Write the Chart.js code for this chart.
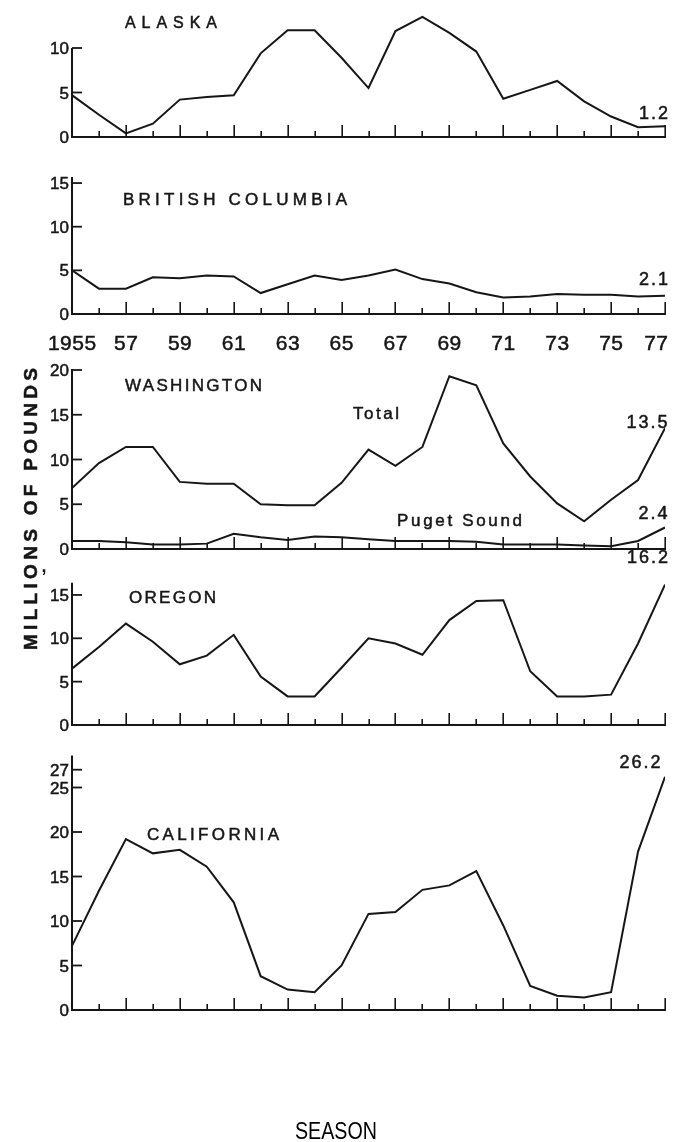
<!DOCTYPE html>
<html lang="en">
<head>
<meta charset="utf-8">
<title>Landings by season, 1955–1977</title>
<script src="https://cdn.jsdelivr.net/npm/chart.js@4.4.1/dist/chart.umd.min.js"></script>
<style>
  html, body { margin: 0; padding: 0; background: #fff; }
  #page { position: relative; width: 676px; height: 1142px; overflow: hidden; background: #fff; }
  #page canvas { position: absolute; left: 0; top: 0; }
</style>
</head>
<body>
<div id="page">
  <canvas id="alaska" width="676" height="1142"></canvas>
  <canvas id="bc" width="676" height="1142"></canvas>
  <canvas id="washington" width="676" height="1142"></canvas>
  <canvas id="oregon" width="676" height="1142"></canvas>
  <canvas id="california" width="676" height="1142"></canvas>
</div>
<script>
// Seasons on the horizontal axis
const seasons = [1955, 1956, 1957, 1958, 1959, 1960, 1961, 1962, 1963, 1964, 1965, 1966,
                 1967, 1968, 1969, 1970, 1971, 1972, 1973, 1974, 1975, 1976, 1977];
const seasonLabels = ['1955', '57', '59', '61', '63', '65', '67', '69', '71', '73', '75', '77'];

// Landings, millions of pounds
const alaska = [4.7, 2.5, 0.4, 1.5, 4.2, 4.5, 4.7, 9.4, 12.0, 12.0, 8.9, 5.5,
                11.9, 13.5, 11.7, 9.6, 4.3, 5.3, 6.3, 4.0, 2.3, 1.1, 1.2];
const britishColumbia = [5.0, 2.9, 2.9, 4.2, 4.1, 4.4, 4.3, 2.4, 3.4, 4.4, 3.9, 4.4,
                         5.1, 4.0, 3.5, 2.5, 1.9, 2.0, 2.3, 2.2, 2.2, 2.0, 2.1];
const washingtonTotal = [6.8, 9.6, 11.4, 11.4, 7.5, 7.3, 7.3, 5.0, 4.9, 4.9, 7.4, 11.1,
                         9.3, 11.4, 19.3, 18.3, 11.8, 8.1, 5.1, 3.1, 5.5, 7.7, 13.5];
const pugetSound = [0.9, 0.9, 0.75, 0.5, 0.5, 0.6, 1.7, 1.3, 1.0, 1.4, 1.3, 1.1,
                    0.9, 0.9, 0.9, 0.8, 0.5, 0.5, 0.5, 0.4, 0.3, 0.9, 2.4];
const oregon = [6.5, 9.0, 11.7, 9.6, 7.0, 8.0, 10.4, 5.6, 3.3, 3.3, 6.6, 10.0,
                9.4, 8.1, 12.1, 14.3, 14.4, 6.2, 3.3, 3.3, 3.5, 9.4, 16.2];
const california = [7.2, 13.4, 19.2, 17.6, 18.0, 16.1, 12.1, 3.8, 2.3, 2.0, 5.0, 10.8,
                    11.0, 13.5, 14.0, 15.6, 9.5, 2.7, 1.6, 1.4, 2.0, 17.8, 26.2];

// Value-axis ticks per panel
const alaskaTicks = [0, 5, 10];
const bcTicks = [0, 5, 10, 15];
const washingtonTicks = [0, 5, 10, 15, 20];
const oregonTicks = [0, 5, 10, 15];
const californiaTicks = [0, 5, 10, 15, 20, 25, 27];

// ---------------------------------------------------------------- styling
const INK = '#161616';
const FONT = '"Liberation Sans", Arial, Helvetica, sans-serif';
const CAP = 0.716;                 // cap height / font size
const PAGE_W = 676, PAGE_H = 1142;
const PLOT_LEFT = 72, PLOT_RIGHT = 665;
const PEN = 0.5;                   // extra stroke so the lettering reads like pen work

function inkText(ctx, text, x, y) {
  ctx.fillText(text, x, y);
  ctx.lineWidth = PEN;
  ctx.strokeText(text, x, y);
}

// draw text whose cap centre sits on yMid, spread to fill x1..x2
function spacedText(ctx, text, x1, x2, yMid, size) {
  ctx.letterSpacing = '0px';
  const chars = Array.from(text);
  const widths = chars.map(c => ctx.measureText(c).width);
  const total = widths.reduce((a, b) => a + b, 0);
  const gap = chars.length > 1 ? (x2 - x1 - total) / (chars.length - 1) : 0;
  const base = yMid + size * CAP / 2;
  ctx.textAlign = 'left';
  ctx.textBaseline = 'alphabetic';
  if ('letterSpacing' in ctx) {
    ctx.letterSpacing = gap + 'px';
    inkText(ctx, text, x1, base);
    ctx.letterSpacing = '0px';
  } else {
    let x = x1;
    chars.forEach((c, i) => { inkText(ctx, c, x, base); x += widths[i] + gap; });
  }
}

// centred on x (kept inside the page), cap centre on yMid
function centredText(ctx, text, x, yMid, size, spacing) {
  ctx.textBaseline = 'alphabetic';
  ctx.textAlign = 'left';
  if ('letterSpacing' in ctx) ctx.letterSpacing = (spacing || 0) + 'px';
  const w = ctx.measureText(text).width - (spacing || 0);
  const left = Math.min(x - w / 2, PAGE_W - 8 - w);
  inkText(ctx, text, left, yMid + size * CAP / 2);
  if ('letterSpacing' in ctx) ctx.letterSpacing = '0px';
}

// axes, tick marks, titles and end-value labels for one panel
const panelFrame = {
  id: 'panelFrame',
  afterDatasetsDraw(chart, args, opts) {
    const { ctx } = chart;
    const xs = chart.scales.x, ys = chart.scales.y;
    const x0 = xs.getPixelForValue(seasons[0]);
    const x1 = xs.getPixelForValue(seasons[seasons.length - 1]);
    const y0 = ys.getPixelForValue(0);
    ctx.save();
    ctx.strokeStyle = INK;
    ctx.fillStyle = INK;
    ctx.lineCap = 'butt';

    // base line and value axis
    ctx.lineWidth = 2;
    ctx.beginPath();
    ctx.moveTo(x0 - 1, y0);
    ctx.lineTo(x1 + 1, y0);
    ctx.moveTo(x0, y0 + 1);
    ctx.lineTo(x0, ys.getPixelForValue(opts.axisTop));
    ctx.stroke();

    // season tick marks, long on odd years
    ctx.lineWidth = 1.6;
    ctx.beginPath();
    seasons.forEach((s, i) => {
      if (i === 0) return;
      const px = Math.round(xs.getPixelForValue(s)) + 0.2;
      const len = s % 2 === 1 ? 12 : 6;
      ctx.moveTo(px, y0);
      ctx.lineTo(px, y0 - len);
    });
    ctx.stroke();

    // value ticks and their labels
    ctx.font = `17px ${FONT}`;
    opts.ticks.forEach(v => {
      const py = ys.getPixelForValue(v);
      if (v !== 0) {
        ctx.lineWidth = 1.8;
        ctx.beginPath();
        ctx.moveTo(x0, py);
        ctx.lineTo(x0 + 10, py);
        ctx.stroke();
      }
      ctx.textAlign = 'right';
      ctx.textBaseline = 'alphabetic';
      inkText(ctx, String(v), x0 - 3, py + 17 * CAP / 2);
    });

    // season labels under the panel
    if (opts.seasonLabels) {
      ctx.font = `21px ${FONT}`;
      seasonLabels.forEach((lab, i) => {
        const s = seasons[0] + i * 2;
        centredText(ctx, lab, xs.getPixelForValue(s), opts.seasonLabelY, 21, 0.5);
      });
    }

    // panel title
    const t = opts.title;
    ctx.font = `${t.size}px ${FONT}`;
    spacedText(ctx, t.text, t.x1, t.x2, t.y, t.size);

    // series names
    (opts.notes || []).forEach(n => {
      ctx.font = `${n.size}px ${FONT}`;
      spacedText(ctx, n.text, n.x1, n.x2, n.y, n.size);
    });

    // latest-season values
    ctx.font = `18px ${FONT}`;
    (opts.endLabels || []).forEach(e => {
      const data = chart.data.datasets[e.dataset].data;
      const last = data[data.length - 1];
      const px = xs.getPixelForValue(last.x);
      const py = ys.getPixelForValue(last.y);
      centredText(ctx, last.y.toFixed(1), px + e.dx, py + e.dy, 18, 2);
    });
    ctx.restore();
  }
};

// shared page lettering: value-axis title and season caption
const pageLettering = {
  id: 'pageLettering',
  afterDraw(chart) {
    const { ctx } = chart;
    ctx.save();
    ctx.fillStyle = INK;
    ctx.strokeStyle = INK;
    ctx.font = `bold 19px ${FONT}`;
    ctx.translate(30, 509);
    ctx.rotate(-Math.PI / 2);
    spacedText(ctx, 'MILLIONS OF POUNDS', -141, 141, 0, 19);
    ctx.restore();

    ctx.save();
    ctx.fillStyle = INK;
    ctx.font = `bold 18px ${FONT}`;
    ctx.textAlign = 'center';
    ctx.fillText(',', 44, 572);
    ctx.restore();

    ctx.save();
    ctx.fillStyle = '#000';
    ctx.font = `24px ${FONT}`;
    const w = ctx.measureText('SEASON').width;
    ctx.translate(336, 1139);
    ctx.scale(82 / w, 1);
    ctx.textAlign = 'center';
    ctx.textBaseline = 'alphabetic';
    ctx.fillText('SEASON', 0, 0);
    ctx.restore();
  }
};

function points(values) {
  return values.map((v, i) => ({ x: seasons[i], y: v }));
}

function lineSet(values) {
  return {
    data: points(values),
    borderColor: INK,
    borderWidth: 2,
    pointRadius: 0,
    pointHoverRadius: 0,
    tension: 0,
    fill: false
  };
}

// zero: pixel row of the base line; ppu: pixels per million pounds
function makePanel(canvasId, p) {
  const top = p.zero - p.yMax * p.ppu;
  return new Chart(document.getElementById(canvasId), {
    type: 'line',
    data: { datasets: p.series.map(lineSet) },
    options: {
      responsive: false,
      animation: false,
      events: [],
      layout: {
        padding: { left: PLOT_LEFT, right: PAGE_W - PLOT_RIGHT, top: top, bottom: PAGE_H - p.zero }
      },
      scales: {
        x: { type: 'linear', min: seasons[0], max: seasons[seasons.length - 1], display: false },
        y: { type: 'linear', min: 0, max: p.yMax, display: false }
      },
      plugins: {
        legend: { display: false },
        tooltip: { enabled: false },
        panelFrame: p.frame
      }
    },
    plugins: p.extra ? [panelFrame, p.extra] : [panelFrame]
  });
}

makePanel('alaska', {
  zero: 137, ppu: 8.9, yMax: 15,
  series: [alaska],
  frame: {
    axisTop: 10, ticks: alaskaTicks,
    title: { text: 'ALASKA', x1: 125, x2: 217, y: 22, size: 16 },
    endLabels: [{ dataset: 0, dx: -9, dy: -14 }]
  }
});

makePanel('bc', {
  zero: 314, ppu: 8.73, yMax: 16,
  series: [britishColumbia],
  frame: {
    axisTop: 15.7, ticks: bcTicks,
    seasonLabels: true, seasonLabelY: 342,
    title: { text: 'BRITISH COLUMBIA', x1: 123, x2: 347, y: 198.5, size: 17 },
    endLabels: [{ dataset: 0, dx: -7, dy: -17 }]
  }
});

makePanel('washington', {
  zero: 549, ppu: 8.95, yMax: 21,
  series: [washingtonTotal, pugetSound],
  frame: {
    axisTop: 20.1, ticks: washingtonTicks,
    title: { text: 'WASHINGTON', x1: 125, x2: 263, y: 385, size: 17 },
    notes: [
      { text: 'Total', x1: 353, x2: 401, y: 413, size: 17 },
      { text: 'Puget Sound', x1: 397, x2: 522, y: 520, size: 17 }
    ],
    endLabels: [{ dataset: 0, dx: -18, dy: -7 }, { dataset: 1, dx: -12, dy: -14.5 }]
  }
});

makePanel('oregon', {
  zero: 725, ppu: 8.67, yMax: 17,
  series: [oregon],
  frame: {
    axisTop: 16.4, ticks: oregonTicks,
    title: { text: 'OREGON', x1: 129, x2: 216, y: 597, size: 17 },
    endLabels: [{ dataset: 0, dx: -14, dy: -27.5 }]
  }
});

makePanel('california', {
  zero: 1010, ppu: 8.9, yMax: 28.6,
  series: [california],
  frame: {
    axisTop: 28.6, ticks: californiaTicks,
    title: { text: 'CALIFORNIA', x1: 147, x2: 279, y: 834, size: 17 },
    endLabels: [{ dataset: 0, dx: -25, dy: -15 }]
  },
  extra: pageLettering
});
</script>
</body>
</html>
